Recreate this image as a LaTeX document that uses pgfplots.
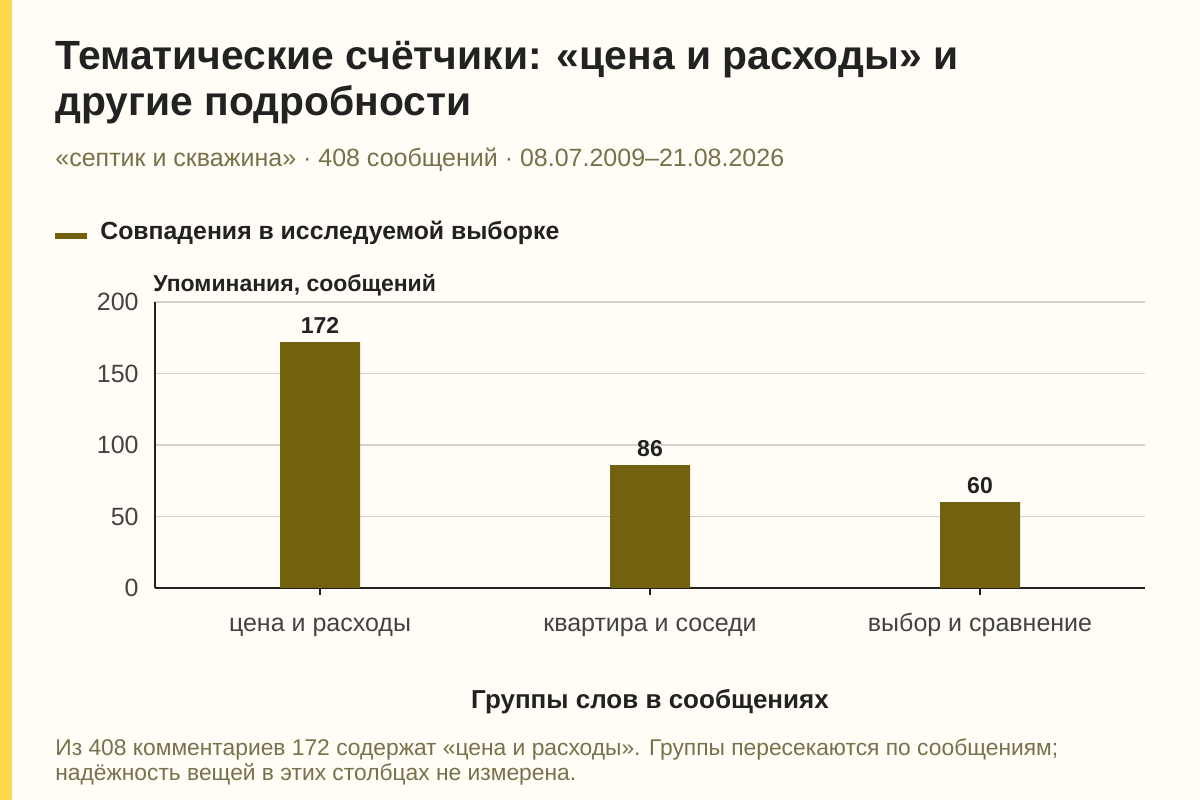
\documentclass[border=0pt]{standalone}
\usepackage{pgfplots}
\pgfplotsset{compat=1.18}
\usepackage{fontspec}
\setmainfont{Liberation Sans}
\definecolor{bgc}{HTML}{FFFDF5}
\definecolor{stripe}{HTML}{F9D84A}
\definecolor{barc}{HTML}{72620F}
\definecolor{ink}{HTML}{222222}
\definecolor{muted}{HTML}{77714C}
\definecolor{gridc}{HTML}{D3D1CA}
\newcommand{\fs}[1]{\fontsize{#1bp}{#1bp}\selectfont}
\begin{document}
\begin{tikzpicture}[x=0.5bp,y=0.5bp]
% background and left stripe, pixel units measured from the bottom left
\fill[bgc] (0,0) rectangle (1200,800);
\fill[stripe] (0,0) rectangle (12,800);
\path[use as bounding box] (0,0) rectangle (1200,800);

\node[anchor=base west,inner sep=0,text=ink,font=\fs{20.4}\bfseries] at (55,730) {Тематические счётчики: «цена и расходы» и};
\node[anchor=base west,inner sep=0,text=ink,font=\fs{20.4}\bfseries] at (55,684) {другие подробности};
\node[anchor=base west,inner sep=0,text=muted,font=\fs{12.5}] at (55,633) {«септик и скважина» · 408 сообщений · 08.07.2009–21.08.2026};

\draw[barc,line width=3bp] (55,564) -- (87,564);
\node[anchor=base west,inner sep=0,text=ink,font=\fs{12.4}\bfseries] at (100,560) {Совпадения в исследуемой выборке};
\node[anchor=base west,inner sep=0,text=ink,font=\fs{11.5}\bfseries] at (153,508) {Упоминания, сообщений};

\begin{axis}[
    at={(77.5bp,106bp)}, anchor=south west,
    scale only axis, width=495bp, height=143bp,
    ymin=0, ymax=200, ytick={0,50,100,150,200},
    xmin=-0.5, xmax=2.5,
    xtick=data,
    xticklabels={цена и расходы,квартира и соседи,выбор и сравнение},
    axis lines*=left,
    axis line style={ink, line width=1.2bp},
    ymajorgrids, grid style={gridc, line width=0.6bp},
    ytick style={draw=none},
    xtick style={ink, line width=0.8bp},
    major tick length=3.5bp, tick align=outside,
    yticklabel style={font=\fs{12.5}, text=ink!85, anchor=east, inner sep=0pt, xshift=-4.5bp},
    xticklabel style={font=\fs{12.5}, text=ink!85, anchor=base, inner sep=0pt, yshift=-18.5bp},
    /pgf/number format/assume math mode=true,
    ybar, bar width=40bp,
    nodes near coords,
    every node near coord/.append style={font=\fs{11.5}\bfseries, text=ink, anchor=base, inner sep=0pt, yshift=4.5bp},
    clip=false,
]
\addplot[fill=barc, draw=none] coordinates {(0,172) (1,86) (2,60)};
\end{axis}

\node[anchor=base,inner sep=0,text=ink,font=\fs{13}\bfseries] at (650,92) {Группы слов в сообщениях};
\node[anchor=base west,inner sep=0,text=muted,font=\fs{11.4}] at (55,45) {Из 408 комментариев 172 содержат «цена и расходы». Группы пересекаются по сообщениям;};
\node[anchor=base west,inner sep=0,text=muted,font=\fs{11.4}] at (55,20) {надёжность вещей в этих столбцах не измерена.};
\end{tikzpicture}
\end{document}
